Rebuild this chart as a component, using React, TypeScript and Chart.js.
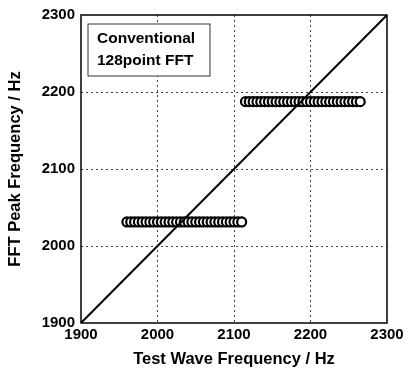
import React, { useEffect, useRef } from "react";
import { Chart, registerables } from "chart.js";

Chart.register(...registerables);

const xTicks = [1900, 2000, 2100, 2200, 2300];
const yTicks = [1900, 2000, 2100, 2200, 2300];
const legendLines = ["Conventional", "128point FFT"];

const lowBinX = [1960, 1965, 1970, 1975, 1980, 1985, 1990, 1995, 2000, 2005, 2010, 2015, 2020, 2025, 2030, 2035, 2040, 2045, 2050, 2055, 2060, 2065, 2070, 2075, 2080, 2085, 2090, 2095, 2100, 2105, 2110];
const lowBinY = 2031.25;
const highBinX = [2115, 2120, 2125, 2130, 2135, 2140, 2145, 2150, 2155, 2160, 2165, 2170, 2175, 2180, 2185, 2190, 2195, 2200, 2205, 2210, 2215, 2220, 2225, 2230, 2235, 2240, 2245, 2250, 2255, 2260, 2265];
const highBinY = 2187.5;
const idealX = [1900, 2300];
const idealY = [1900, 2300];

const FONT = "'Liberation Sans', Arial, sans-serif";

const boxPlugin = {
  id: "boxAndLegend",
  afterDraw(chart: any) {
    const { ctx, chartArea: a } = chart;
    ctx.save();
    ctx.strokeStyle = "#000";
    ctx.lineWidth = 1.5;
    ctx.strokeRect(a.left, a.top, a.right - a.left, a.bottom - a.top);
    const bx = a.left + 7, by = a.top + 9, bw = 122, bh = 52;
    ctx.fillStyle = "#fff";
    ctx.fillRect(bx, by, bw, bh);
    ctx.lineWidth = 1;
    ctx.strokeStyle = "#333";
    ctx.strokeRect(bx, by, bw, bh);
    ctx.fillStyle = "#000";
    ctx.font = `bold 15.5px ${FONT}`;
    ctx.textAlign = "left";
    ctx.textBaseline = "middle";
    ctx.fillText(legendLines[0], bx + 9, by + 15);
    ctx.fillText(legendLines[1], bx + 9, by + 37);
    ctx.restore();
  },
};

const gridColor = (c: any) =>
  c.tick && (c.tick.value === 1900 || c.tick.value === 2300) ? "rgba(0,0,0,0)" : "#444";

export default function App() {
  const ref = useRef<HTMLCanvasElement>(null);
  useEffect(() => {
    document.body.style.margin = "0";
    const chart = new Chart(ref.current!, {
      type: "scatter",
      data: {
        datasets: [
          {
            type: "line",
            data: idealX.map((x, i) => ({ x, y: idealY[i] })),
            borderColor: "#000",
            borderWidth: 2,
            pointRadius: 0,
            fill: false,
          } as any,
          {
            data: lowBinX.map((x) => ({ x, y: lowBinY })),
            pointRadius: 4.5,
            pointBorderWidth: 2.2,
            pointBorderColor: "#000",
            pointBackgroundColor: "#fff",
          },
          {
            data: highBinX.map((x) => ({ x, y: highBinY })),
            pointRadius: 4.5,
            pointBorderWidth: 2.2,
            pointBorderColor: "#000",
            pointBackgroundColor: "#fff",
          },
        ],
      },
      options: {
        animation: false,
        responsive: false,
        layout: { padding: { top: 12, right: 23, left: 0, bottom: 0 } },
        plugins: { legend: { display: false }, tooltip: { enabled: false } },
        scales: {
          x: {
            type: "linear",
            min: 1900,
            max: 2300,
            afterBuildTicks: (s: any) => { s.ticks = xTicks.map((v) => ({ value: v })); },
            ticks: {
              color: "#000",
              font: { family: FONT, size: 15, weight: "bold" },
              padding: 3,
              maxRotation: 0,
              callback: (v: any) => String(v),
            },
            grid: { drawTicks: false, color: gridColor, lineWidth: 1 },
            border: { display: false, dash: [2, 3] },
            title: {
              display: true,
              text: "Test Wave Frequency / Hz",
              color: "#000",
              font: { family: FONT, size: 16.5, weight: "bold" },
              padding: { top: 0, bottom: 4 },
            },
            afterFit: (s: any) => { s.height = 50; },
          },
          y: {
            type: "linear",
            min: 1900,
            max: 2300,
            afterBuildTicks: (s: any) => { s.ticks = yTicks.map((v) => ({ value: v })); },
            ticks: {
              color: "#000",
              font: { family: FONT, size: 15, weight: "bold" },
              padding: 6,
              callback: (v: any) => String(v),
            },
            grid: { drawTicks: false, color: gridColor, lineWidth: 1 },
            border: { display: false, dash: [2, 3] },
            title: {
              display: true,
              text: "FFT Peak Frequency / Hz",
              color: "#000",
              font: { family: FONT, size: 16.5, weight: "bold" },
              padding: { top: 6, bottom: 4 },
            },
            afterFit: (s: any) => { s.width = 81; },
          },
        },
      } as any,
      plugins: [boxPlugin],
    });
    return () => chart.destroy();
  }, []);
  return (
    <div style={{ width: 410, height: 373 }}>
      <canvas ref={ref} width={410} height={373} style={{ display: "block" }} />
    </div>
  );
}
